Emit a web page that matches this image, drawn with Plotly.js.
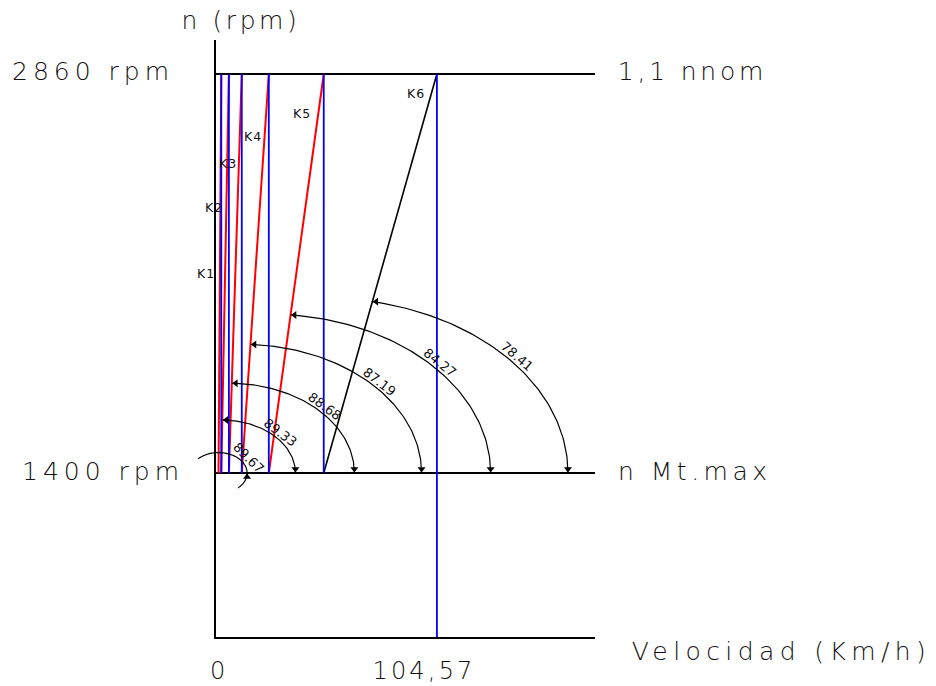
<!DOCTYPE html>
<html><head><meta charset="utf-8">
<script src="https://cdn.plot.ly/plotly-3.0.1.min.js"></script>
<style>
html,body{margin:0;padding:0;background:#fff;}
#chart{width:936px;height:686px;}
</style>
</head><body><div id="chart"></div>
<script>
// ---- data ----
const gearNames      = ['K1','K2','K3','K4','K5','K6'];
const gearStartSpeed = [1.2, 2.5, 6.1, 12.2, 25.0, 51.0];     // km/h at n Mt.max (1400 rpm)
const gearEndSpeed   = [2.5, 6.1, 12.2, 25.0, 51.0, 104.57];  // km/h at 1,1 nnom (2860 rpm)
const nMin = 1400, nMax = 2860;                               // rpm
const arcEndSpeed    = [14.7, 37.6, 65.5, 97.3, 130.0, 166.6]; // km/h where angle arcs meet n Mt.max
const angleLabels    = ['89.67','89.33','88.68','87.19','84.27','78.41'];
const xTickVals = [0, 104.57];
const xTickText = ['0', '104,57'];
const yTickVals = [nMax, nMin];
const yTickText = ['2860 rpm', '1400 rpm'];
const rightLabels = ['1,1 nnom', 'n Mt.max'];

// ---- geometry / layout constants ----
const L = 216, T = 40, R = 341, B = 49, W = 936, H = 686;
const PW = W - L - R, PH = H - T - B;
const X_RANGE = [0, 179.4];
const Y_RANGE = [800, 2984.4];
const pxPerX = PW / (X_RANGE[1] - X_RANGE[0]);
const pxPerY = PH / (Y_RANGE[1] - Y_RANGE[0]);
const ASPECT = 0.716;                   // vertical / horizontal scale of the drawing
const KV = ASPECT * pxPerX / pxPerY;    // rpm per km/h of arc radius
function pxPaperX(p){ return (p - L) / PW; }
function pxPaperY(p){ return 1 - (p - T) / PH; }
function xPaper(v){ return (v - X_RANGE[0]) / (X_RANGE[1] - X_RANGE[0]); }
function yPaper(v){ return (v - Y_RANGE[0]) / (Y_RANGE[1] - Y_RANGE[0]); }
function yPx(v){ return T + (Y_RANGE[1] - v) * pxPerY; }
const deg = Math.PI / 180;

const traces = [];
const shapes = [];
// reference rpm lines
[nMax, nMin].forEach(n => traces.push({
  type:'scatter', mode:'lines', x:[X_RANGE[0], X_RANGE[1]], y:[n, n],
  line:{color:'#000', width:1.8}, hoverinfo:'skip', cliponaxis:false, showlegend:false
}));
// gear lines
for (let i = 0; i < gearNames.length; i++) {
  const last = i === gearNames.length - 1;
  traces.push({
    type:'scatter', mode:'lines', x:[gearStartSpeed[i], gearEndSpeed[i]], y:[nMin, nMax],
    line:{color: last ? '#000' : '#ff0000', width: last ? 1.6 : 2}, hoverinfo:'skip', showlegend:false
  });
}
// blue verticals at each gear's top speed
for (let i = 0; i < gearNames.length; i++) {
  const last = i === gearNames.length - 1;
  traces.push({
    type:'scatter', mode:'lines', x:[gearEndSpeed[i], gearEndSpeed[i]], y:[last ? Y_RANGE[0] : nMin, nMax],
    line:{color:'#0000ff', width:1.8}, hoverinfo:'skip', showlegend:false, cliponaxis:false
  });
}
// angle dimension arcs
const arrowX = [], arrowY = [], arrowSym = [];
const annotations = [];
const labelPhi = [36, 44, 44, 43, 42, 40];
for (let i = 0; i < gearNames.length; i++) {
  const cx = gearStartSpeed[i];
  const r = arcEndSpeed[i] - cx;
  const th = Math.atan2((nMax - nMin) / KV, gearEndSpeed[i] - cx);
  const t0 = i === 0 ? -47 * deg : 0;
  const t1 = i === 0 ? 136 * deg : th;
  const ax = [], ay = [];
  const N = 80;
  for (let k = 0; k <= N; k++) {
    const t = t0 + (t1 - t0) * k / N;
    ax.push(cx + r * Math.cos(t));
    ay.push(nMin + KV * r * Math.sin(t));
  }
  if (i === 0) {
    // small arc reaches past the n axis: draw it unclipped
    const d = ax.map((x, k) => (k ? 'L' : 'M') + xPaper(x).toFixed(5) + ',' + yPaper(ay[k]).toFixed(5)).join(' ');
    shapes.push({type:'path', xref:'paper', yref:'paper', path:d, line:{color:'#000', width:1.2}, layer:'above'});
  } else {
    traces.push({type:'scatter', mode:'lines', x:ax, y:ay, line:{color:'#000', width:1.2},
      hoverinfo:'skip', showlegend:false, cliponaxis:false});
  }
  const lx = cx + r * Math.cos(th), ly = nMin + KV * r * Math.sin(th);
  if (i === 0) {
    arrowX.push(cx + r); arrowY.push(nMin - 4 / pxPerY); arrowSym.push('triangle-up');
    arrowX.push(lx - 4 / pxPerX); arrowY.push(ly); arrowSym.push('triangle-right');
  } else {
    arrowX.push(cx + r); arrowY.push(nMin + 4 / pxPerY); arrowSym.push('triangle-down');
    arrowX.push(lx + 4 / pxPerX); arrowY.push(ly); arrowSym.push('triangle-left');
  }
  // label along arc
  const phi = labelPhi[i] * deg;
  const rr = r + 8 / pxPerX;
  const tang = Math.atan2(ASPECT * Math.cos(phi), Math.sin(phi)) / deg;
  annotations.push({
    x: cx + rr * Math.cos(phi), y: nMin + KV * rr * Math.sin(phi), xref:'x', yref:'y',
    text: angleLabels[i], showarrow:false, textangle: tang, xanchor:'center', yanchor:'middle',
    font:{family:'DejaVu Sans', size:13, color:'#111'}
  });
}
traces.push({type:'scatter', mode:'markers', x:arrowX, y:arrowY,
  marker:{symbol:arrowSym, size:7, color:'#000'}, hoverinfo:'skip', showlegend:false, cliponaxis:false});

// gear names
const gearLabelPx = [[206,274],[214,207],[228,163],[253,137],[302,114],[416,94]];
for (let i = 0; i < gearNames.length; i++) {
  annotations.push({x: pxPaperX(gearLabelPx[i][0]), y: pxPaperY(gearLabelPx[i][1]), xref:'paper', yref:'paper',
    xanchor:'center', yanchor:'middle',
    text: gearNames[i], showarrow:false, font:{family:'DejaVu Sans', size:12.5, color:'#111'}});
}

const spacingMap = {};
function bigS(text, px, py, size, spacing){
  spacingMap[text] = spacing;
  annotations.push({x: pxPaperX(px), y: pxPaperY(py), xref:'paper', yref:'paper', text, showarrow:false,
    font: {family:'DejaVu Sans', size: size, color:'#111', weight:300}, xanchor:'center', yanchor:'middle'});
}
bigS('n (rpm)', 241, 20, 25, 3.6);
bigS(yTickText[0], 93, yPx(yTickVals[0]) - 2, 25, 5);
bigS(yTickText[1], 103, yPx(yTickVals[1]) - 2, 25, 5);
bigS(rightLabels[0], 692, yPx(nMax) - 2, 25, 3.8);
bigS(rightLabels[1], 695, yPx(nMin) - 2, 25, 4.5);
bigS('Velocidad (Km/h)', 781, 651, 25, 5.4);
bigS(xTickText[0], L + xTickVals[0] * pxPerX + 1, 671, 24, 0);
bigS(xTickText[1], L + xTickVals[1] * pxPerX - 13, 671, 24, 3.2);

const layout = {
  width: W, height: H, margin:{l:L, r:R, t:T, b:B}, paper_bgcolor:'#fff', plot_bgcolor:'#fff',
  showlegend:false,
  xaxis:{range:X_RANGE, showgrid:false, zeroline:false, showline:true, linecolor:'#000', linewidth:2,
    ticks:'', showticklabels:false, fixedrange:true},
  yaxis:{range:Y_RANGE, showgrid:false, zeroline:false, showline:true, linecolor:'#000', linewidth:2,
    ticks:'', showticklabels:false, fixedrange:true},
  annotations, shapes
};
Plotly.newPlot('chart', traces, layout, {staticPlot:true, displayModeBar:false}).then(() => {
  document.querySelectorAll('.annotation-text').forEach(t => {
    const s = spacingMap[t.textContent];
    if (s) t.style.letterSpacing = s + 'px';
    else if (/^K\d$/.test(t.textContent)) t.style.letterSpacing = '1px';
  });
});
</script>
</body></html>
